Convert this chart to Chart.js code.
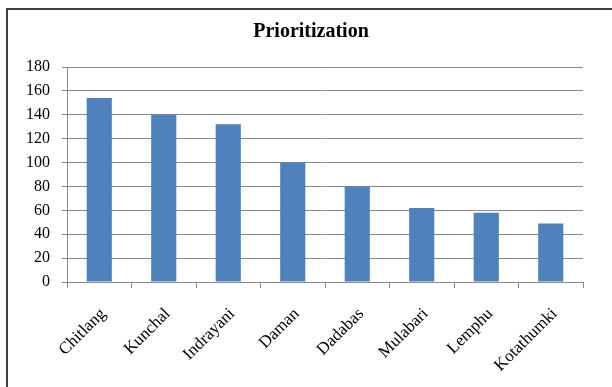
<!DOCTYPE html>
<html>
<head>
<meta charset="utf-8">
<script src="https://cdn.jsdelivr.net/npm/chart.js@4/dist/chart.umd.min.js"></script>
<style>
  html, body { margin: 0; padding: 0; background: #ffffff; overflow: hidden; }
  canvas { display: block; }
</style>
</head>
<body>
<canvas id="chart" width="612" height="387"></canvas>
<script>
// Sites ranked by priority score
const categories = ['Chitlang', 'Kunchal', 'Indrayani', 'Daman', 'Dadabas', 'Mulabari', 'Lemphu', 'Kotathumki'];
const scores = [154, 140, 132, 100, 80, 62, 58, 49];
const yTicks = [0, 20, 40, 60, 80, 100, 120, 140, 160, 180];

const serif = '"Liberation Serif", "Times New Roman", serif';
const gridGray = '#8a8a8a';

// Dark frame line along the top and left edges of the chart panel
const panelFrame = {
  id: 'panelFrame',
  afterDraw(chart) {
    const ctx = chart.ctx;
    ctx.save();
    ctx.strokeStyle = '#404040';
    ctx.lineWidth = 2;
    ctx.beginPath();
    ctx.moveTo(7, chart.height);
    ctx.lineTo(7, 9);
    ctx.lineTo(chart.width, 9);
    ctx.stroke();
    ctx.restore();
  }
};

new Chart(document.getElementById('chart'), {
  type: 'bar',
  data: {
    labels: categories,
    datasets: [{
      data: scores,
      backgroundColor: '#4f81bd',
      borderWidth: 0,
      barPercentage: 0.39,
      categoryPercentage: 1.0
    }]
  },
  plugins: [panelFrame],
  options: {
    responsive: false,
    animation: false,
    devicePixelRatio: 1,
    layout: { padding: { left: 10, right: 0, top: 0, bottom: 0 } },
    plugins: {
      legend: { display: false },
      tooltip: { enabled: false },
      title: {
        display: true,
        text: 'Prioritization',
        color: '#000000',
        font: { family: serif, size: 20, weight: 'bold' },
        padding: { top: 20, bottom: 23 }
      }
    },
    scales: {
      x: {
        offset: true,
        grid: {
          offset: true,
          drawOnChartArea: false,
          drawTicks: true,
          tickLength: 6,
          color: gridGray
        },
        border: { color: gridGray, width: 1 },
        ticks: {
          color: '#000000',
          font: { family: serif, size: 17 },
          minRotation: 45,
          maxRotation: 45,
          autoSkip: false,
          padding: 16,
          labelOffset: 4
        },
        afterFit(scale) { scale.height = 105; }
      },
      y: {
        min: 0,
        max: 180,
        afterBuildTicks(scale) { scale.ticks = yTicks.map(v => ({ value: v })); },
        grid: {
          color: gridGray,
          drawTicks: true,
          tickLength: 5
        },
        border: { color: gridGray, width: 1 },
        ticks: {
          color: '#000000',
          font: { family: serif, size: 16 },
          padding: 12
        },
        afterFit(scale) { scale.width = 57; }
      },
      // empty right-hand margin beside the plot
      yRight: {
        position: 'right',
        min: 0,
        max: 180,
        grid: { display: false, drawTicks: false },
        border: { display: false },
        ticks: { display: false },
        afterFit(scale) { scale.width = 29; }
      }
    }
  }
});
</script>
</body>
</html>
